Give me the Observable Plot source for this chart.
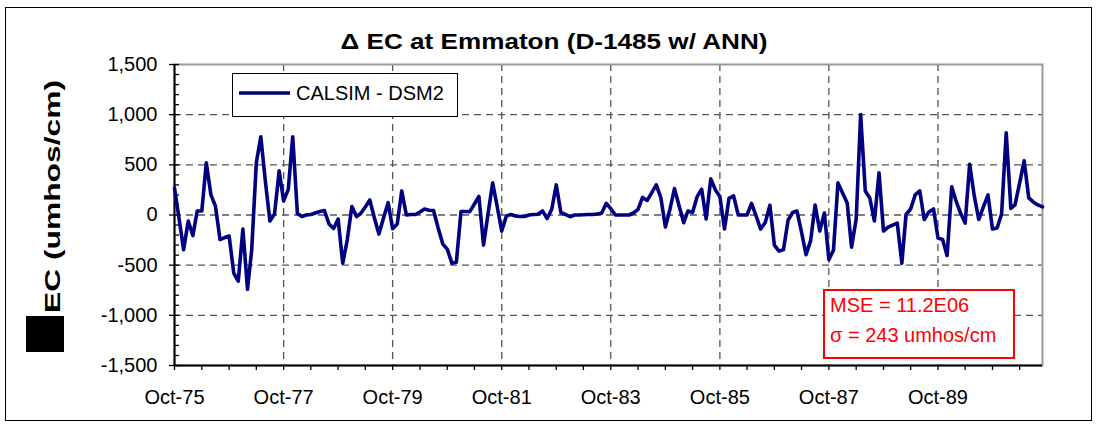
<!DOCTYPE html>
<html>
<head>
<meta charset="utf-8">
<script src="https://cdn.jsdelivr.net/npm/d3@7"></script>
<script src="https://cdn.jsdelivr.net/npm/@observablehq/plot@0.6"></script>
<style>
  body { margin: 0; background: #fff; }
  #chart svg { font-family: "Liberation Sans", Arial, sans-serif; }
</style>
</head>
<body>
<div id="chart"></div>
<script>
// ---- data ----
const chartTitle = "Δ EC at Emmaton (D-1485 w/ ANN)";
const yAxisLabel = "EC (umhos/cm)";
const seriesName = "CALSIM - DSM2";
const statLines = ["MSE = 11.2E06", "σ = 243 umhos/cm"];
const startYear = 1975, startMonth = 9; // Oct-75
const deltaEC = [
  270, -40, -345, -60, -205, 40, 40, 520, 200, 90,
  -245, -225, -210, -580, -660, -140, -740, -350, 520, 780,
  330, -60, 10, 440, 140, 255, 780, 15, -15, 0,
  5, 20, 35, 45, -90, -135, -40, -480, -250, 85,
  -15, 15, 80, 150, -30, -190, -30, 123, -137, -90,
  240, 0, 5, 5, 30, 60, 47, 45, -130, -290,
  -340, -480, -470, 35, 35, 33, 110, 185, -300, 10,
  320, 80, -160, -10, 5, -10, -15, -15, 0, 5,
  8, 40, -35, 57, 300, 25, 5, -17, 0, 0,
  3, 5, 5, 10, 17, 117, 63, 0, 0, 0,
  0, 20, 57, 175, 145, 220, 300, 170, -120, 60,
  263, 90, -77, 40, 25, 180, 257, -40, 360, 250,
  185, -140, 165, 190, 0, 0, 0, 115, -10, -140,
  -75, 97, -300, -360, -345, -50, 25, 40, -170, -395,
  -255, 100, -160, 20, -445, -350, 320, 220, 120, -320,
  -40, 1000, 240, 170, -60, 420, -160, -120, -100, -80,
  -480, 5, 60, 200, 240, -45, 30, 60, -230, -245,
  -405, 280, 130, 20, -80, 505, 190, -45, 80, 200,
  -140, -130, 10, 820, 65, 100, 320, 540, 170, 130,
  100, 80
];
const yTicks = [-1500, -1000, -500, 0, 500, 1000, 1500];
const xTickLabels = ["Oct-75", "Oct-77", "Oct-79", "Oct-81", "Oct-83", "Oct-85", "Oct-87", "Oct-89"];

// ---- derived ----
const start = new Date(Date.UTC(startYear, startMonth, 1));
const data = deltaEC.map((v, i) => ({date: d3.utcMonth.offset(start, i), v}));
const xMajor = xTickLabels.map((_, i) => d3.utcMonth.offset(start, 24 * i));
const xMinor = d3.range(0, deltaEC.length, 6).map(i => d3.utcMonth.offset(start, i));
const yMinor = d3.range(-1500, 1501, 100);
const labelFor = new Map(xMajor.map((d, i) => [+d, xTickLabels[i]]));
const fmtY = d => (d < 0 ? "-" : "") + d3.format(",")(Math.abs(d));

const W = 1099, H = 426;
const mL = 174, mR = 57, mT = 64, mB = 61;
const plotW = W - mL - mR;

const plot = Plot.plot({
  width: W, height: H,
  marginLeft: mL, marginRight: mR, marginTop: mT, marginBottom: mB,
  style: {fontFamily: "Liberation Sans, Arial, sans-serif", fontSize: "20px", color: "#000", background: "#fff", overflow: "visible"},
  x: {type: "utc", domain: [data[0].date, data[data.length - 1].date], label: null},
  y: {domain: [-1500, 1500], label: null},
  marks: [
    Plot.gridY(yTicks.slice(1, -1), {stroke: "#555", strokeOpacity: 1, strokeWidth: 1.3, strokeDasharray: "7,5"}),
    Plot.gridX(xMajor.slice(1), {stroke: "#555", strokeOpacity: 1, strokeWidth: 1.3, strokeDasharray: "7,5"}),
    Plot.frame({stroke: "#999", strokeWidth: 2}),
    Plot.tickY(yMinor, {y: d => d, insetRight: plotW - 5, stroke: "#000", strokeWidth: 1.3}),
    Plot.axisY(yTicks, {tickSize: 5, tickPadding: 12, tickFormat: fmtY, fontSize: 20, strokeWidth: 1.3}),
    Plot.axisX(xMinor, {tickSize: 5, tickPadding: 19, tickFormat: d => labelFor.get(+d) || "", fontSize: 20, strokeWidth: 1.3}),
    Plot.ruleX([data[0].date], {stroke: "#000", strokeWidth: 2}),
    Plot.ruleY([-1500], {stroke: "#000", strokeWidth: 2}),
    Plot.line(data, {x: "date", y: "v", stroke: "#000080", strokeWidth: 3.6, strokeLinejoin: "round"})
  ]
});

document.getElementById("chart").appendChild(plot);

// ---- annotations ----
const svg = d3.select(plot);
// outer border
svg.append("rect").attr("x", 5.5).attr("y", 7.5).attr("width", 1086).attr("height", 413)
  .attr("fill", "none").attr("stroke", "#000").attr("stroke-width", 1);

// title
svg.append("text").attr("x", 554).attr("y", 49).attr("text-anchor", "middle")
  .attr("font-size", 22).attr("font-weight", "bold")
  .attr("textLength", 427).attr("lengthAdjust", "spacingAndGlyphs")
  .text(chartTitle);

// y axis label with the missing-glyph box
svg.append("rect").attr("x", 26).attr("y", 316).attr("width", 38).attr("height", 36).attr("fill", "#000");
svg.append("text").attr("transform", "translate(60,313) rotate(-90)")
  .attr("text-anchor", "start").attr("font-size", 22).attr("font-weight", "bold")
  .attr("textLength", 233).attr("lengthAdjust", "spacingAndGlyphs")
  .text(yAxisLabel);

// legend
const lg = svg.append("g");
lg.append("rect").attr("x", 232.5).attr("y", 73.5).attr("width", 225).attr("height", 43)
  .attr("fill", "#fff").attr("stroke", "#000").attr("stroke-width", 1);
lg.append("line").attr("x1", 239).attr("x2", 290).attr("y1", 93).attr("y2", 93)
  .attr("stroke", "#000080").attr("stroke-width", 3.6);
lg.append("text").attr("x", 296).attr("y", 100).attr("font-size", 20)
  .attr("text-anchor", "start").text(seriesName);

// stats box
const sb = svg.append("g");
sb.append("rect").attr("x", 824).attr("y", 290).attr("width", 190).attr("height", 68)
  .attr("fill", "#fff").attr("stroke", "#ff0000").attr("stroke-width", 2);
statLines.forEach((t, i) => {
  sb.append("text").attr("x", 830).attr("y", 312 + i * 30).attr("font-size", 20)
    .attr("text-anchor", "start").attr("fill", "#ff0000").text(t);
});
</script>
</body>
</html>
